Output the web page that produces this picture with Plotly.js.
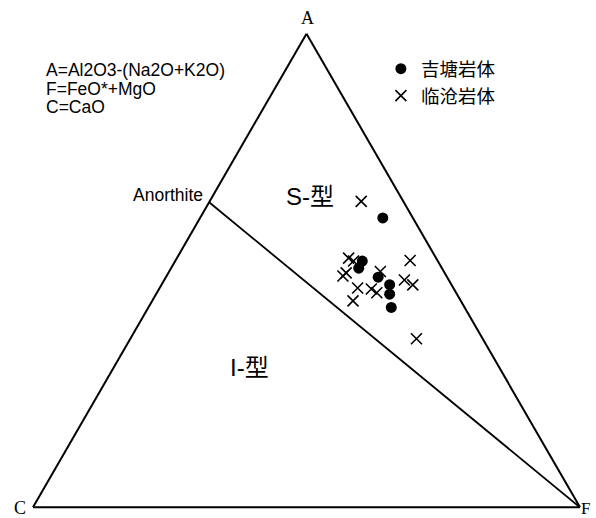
<!DOCTYPE html>
<html>
<head>
<meta charset="utf-8">
<script src="https://cdn.plot.ly/plotly-3.0.1.min.js"></script>
<style>html,body{margin:0;padding:0;background:#fff;}#chart{width:596px;height:518px;}</style>
</head>
<body>
<div id="chart"></div>
<script>
// ACF ternary values (percent): A = Al2O3-(Na2O+K2O), C = CaO, F = FeO*+MgO
const jitangA = [61.1, 52.0, 50.5, 48.6, 47.0, 45.0, 42.2];
const jitangC = [5.5, 13.8, 15.2, 12.6, 11.3, 12.3, 13.4];
const jitangF = [33.4, 34.2, 34.3, 38.8, 41.7, 42.7, 44.4];

const lincangA = [64.6, 52.6, 52.0, 48.8, 49.5, 46.3, 43.6, 46.1, 45.3, 49.8, 52.1, 48.0, 47.0, 35.6];
const lincangC = [7.7, 16.0, 15.4, 18.9, 18.0, 17.5, 19.7, 15.1, 14.5, 11.6, 5.0, 8.1, 7.1, 12.1];
const lincangF = [27.7, 31.4, 32.6, 32.2, 32.5, 36.2, 36.7, 38.8, 40.2, 38.6, 42.9, 43.9, 46.0, 52.3];

// Anorthite - F dividing line
const divA = [64.4, 0];
const divC = [35.6, 0];
const divF = [0, 100];

const seriesNames = ['吉塘岩体', '临沧岩体'];
const formulaLines = ['A=Al2O3-(Na2O+K2O)', 'F=FeO*+MgO', 'C=CaO'];

const sansFont = 'Liberation Sans, Arial, Noto Sans CJK SC, sans-serif';
const cjkFont = 'Noto Sans CJK SC, sans-serif';
const serifFont = 'Liberation Serif, Times New Roman, serif';

const traces = [
  {
    type: 'scatterternary', mode: 'lines',
    a: divA, b: divC, c: divF,
    line: {color: '#000', width: 1.8},
    showlegend: false, hoverinfo: 'skip'
  },
  {
    type: 'scatterternary', mode: 'markers', name: seriesNames[0],
    a: jitangA, b: jitangC, c: jitangF,
    marker: {symbol: 'circle', size: 11, color: '#000'}
  },
  {
    type: 'scatterternary', mode: 'markers', name: seriesNames[1],
    a: lincangA, b: lincangC, c: lincangF,
    marker: {symbol: 'x-thin-open', size: 11, color: '#000', line: {color: '#000', width: 1.6}}
  }
];

const axisCommon = {
  showline: true, linecolor: '#000', linewidth: 2,
  showgrid: false, showticklabels: false, ticks: '', title: {text: ''}
};

const annotations = [
  {text: formulaLines[0], x: 0.0200, y: 0.9221, xanchor: 'left', yanchor: 'middle', font: {family: sansFont, size: 17.5, color: '#000'}},
  {text: formulaLines[1], x: 0.0200, y: 0.8821, xanchor: 'left', yanchor: 'middle', font: {family: sansFont, size: 17.5, color: '#000'}},
  {text: formulaLines[2], x: 0.0200, y: 0.8442, xanchor: 'left', yanchor: 'middle', font: {family: sansFont, size: 17.5, color: '#000'}},
  {text: 'Anorthite', x: 0.3144, y: 0.6589, xanchor: 'right', yanchor: 'middle', font: {family: sansFont, size: 17.5, color: '#000'}},
  {text: 'S-型', x: 0.5064, y: 0.6568, xanchor: 'center', yanchor: 'middle', font: {family: sansFont, size: 24, color: '#000'}},
  {text: 'I-型', x: 0.3967, y: 0.2968, xanchor: 'center', yanchor: 'middle', font: {family: sansFont, size: 24, color: '#000'}},
  {text: 'A', x: 0.5018, y: 1.0316, xanchor: 'center', yanchor: 'middle', font: {family: serifFont, size: 18, color: '#000'}},
  {text: 'C', x: -0.0238, y: 0.0, xanchor: 'center', yanchor: 'middle', font: {family: serifFont, size: 18, color: '#000'}},
  {text: 'F', x: 0.9990, y: 0.0, xanchor: 'left', yanchor: 'middle', font: {family: serifFont, size: 17, color: '#000'}}
].map(a => Object.assign({xref: 'paper', yref: 'paper', showarrow: false}, a));

const layout = {
  width: 596, height: 518,
  margin: {l: 33, r: 16, t: 33, b: 10},
  paper_bgcolor: '#fff', plot_bgcolor: '#fff',
  showlegend: true,
  legend: {
    x: 0.636, y: 0.964, xanchor: 'left', yanchor: 'top',
    bgcolor: 'rgba(0,0,0,0)', borderwidth: 0,
    font: {family: cjkFont, size: 18.5, color: '#000'}
  },
  ternary: {
    sum: 100,
    bgcolor: '#fff',
    domain: {x: [0, 1], y: [0, 1]},
    aaxis: Object.assign({}, axisCommon),
    baxis: Object.assign({}, axisCommon),
    caxis: Object.assign({}, axisCommon)
  },
  annotations: annotations
};

Plotly.newPlot('chart', traces, layout, {displayModeBar: false, staticPlot: true});
</script>
</body>
</html>
